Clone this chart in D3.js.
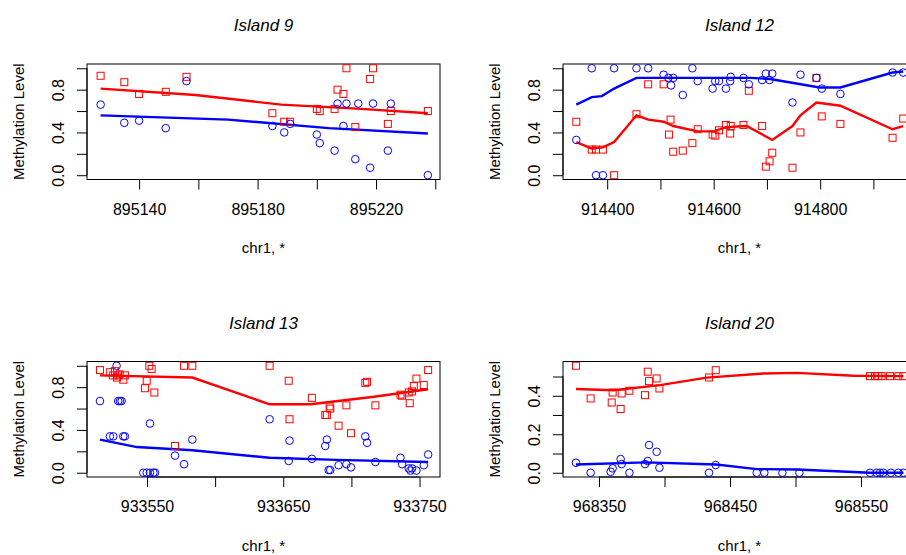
<!DOCTYPE html>
<html><head><meta charset="utf-8">
<script src="https://cdn.jsdelivr.net/npm/d3@7"></script>
<style>body{margin:0;background:#fff}text{font-family:"Liberation Sans",Arial,sans-serif}</style>
</head><body>
<svg id="c" width="906" height="555"></svg>
<script>
const titles = ["Island 9","Island 12","Island 13","Island 20"];
const offsets = [895000, 914000, 933000, 968000];
const xTicks = [[895140,895160,895180,895200,895220,895240],[914400,914500,914600,914700,914800,914900],[933550,933600,933650,933700,933750],[968350,968400,968450,968500,968550]];
const xLabelTicks = [[895140,895180,895220],[914400,914600,914800],[933550,933650,933750],[968350,968450,968550]];
const yTicks = [[0,0.2,0.4,0.6,0.8,1.0],[0,0.2,0.4,0.6,0.8,1.0],[0,0.2,0.4,0.6,0.8,1.0],[0,0.1,0.2,0.3,0.4,0.5]];
const yLabelTicks = [[0,0.4,0.8],[0,0.4,0.8],[0,0.4,0.8],[0,0.2,0.4]];
const xDomains = [[895122.4,895241.6],[914317,914980],[933506,933765],[968322.5,968592]];
const yDomains = [[-0.04,1.04],[-0.04,1.04],[-0.04,1.04],[-0.022,0.578]];

const red1 = [[127,.93],[135,.87],[140,.76],[149,.78],[156,.92],[185,.58],[189,.50],[191,.50],[200,.62],[201,.60],[206,.62],[207,.80],[209,.76],[210,1],[213,.45],[218,.90],[219,1],[224,.48],[225,.60],[237.5,.60]];
const blue1 = [[127,.66],[135,.49],[140,.51],[149,.44],[156,.88],[185,.46],[189,.40],[191,.48],[200,.38],[201,.30],[206,.23],[207,.67],[209,.46],[210,.67],[213,.15],[214,.67],[218,.07],[219,.67],[224,.23],[225,.67],[237.5,0]];
const redLine1 = [[127,.81],[159,.75],[188,.66],[215,.62],[237.5,.58]];
const blueLine1 = [[127,.56],[170,.52],[204,.44],[237.5,.39]];

const red2 = [[342,.50],[371,.24],[379,.24],[392,.24],[413,0],[455,.57],[477,.85],[506,.85],[519,.52],[516,.38],[524,.22],[542,.23],[560,.30],[570,.43],[598,.38],[603,.37],[610,.42],[623,.47],[631,.39],[632,.46],[656,.47],[666,.79],[691,.46],[698,.08],[705,.13],[710,.21],[748,.07],[763,.40],[793,.91],[803,.55],[838,.48],[936,.35],[956,.53]];
const blue2 = [[342,.33],[371,1],[379,0],[392,0],[413,1],[455,1],[477,1],[506,.94],[515,.91],[520,.84],[524,.91],[542,.75],[560,1],[570,.88],[598,.81],[603,.88],[610,.88],[623,.81],[631,.88],[632,.92],[656,.91],[666,.85],[691,.89],[698,.95],[705,.89],[710,.95],[748,.68],[763,.94],[793,.91],[803,.81],[838,.76],[936,.96],[956,.96]];
const redLine2 = [[342,.31],[371,.25],[392,.26],[413,.31],[455,.56],[477,.52],[506,.50],[524,.46],[570,.41],[600,.41],[623,.45],[662,.46],[710,.33],[748,.46],[763,.56],[793,.68],[838,.65],[936,.43],[956,.46]];
const blueLine2 = [[342,.66],[371,.73],[390,.74],[413,.81],[455,.91],[669,.91],[706,.90],[799,.82],[838,.82],[936,.96],[956,.97]];

const red3 = [[515.5,.96],[523,.94],[525,.91],[526.5,.95],[528,.89],[529,.91],[530,.92],[532.6,.87],[533.8,.91],[548.5,.79],[549.8,.86],[551.7,1],[553.4,.97],[555.4,.75],[570.6,.25],[577.2,1],[583.3,1],[640,1],[654,.86],[654.6,.5],[671,.70],[680.8,.54],[682,.54],[684,.62],[684.5,.60],[690.6,.44],[696.3,.63],[699.7,.37],[710.2,.84],[711.5,.85],[717.6,.63],[736,.73],[737.2,.72],[742.1,.75],[742.8,.65],[744.5,.76],[745.8,.81],[747.7,.88],[753.1,.82],[756.3,.96]];
const blue3 = [[515.5,.67],[522.8,.34],[525.3,.34],[527.7,1],[528.9,.67],[530.2,.67],[531.4,.67],[532.6,.34],[533.8,.34],[547.3,0],[549.8,0],[552.2,0],[552.2,.46],[554.7,0],[555.9,0],[570.6,.16],[577.2,.08],[583.3,.31],[640,.5],[654,.11],[654.6,.30],[671,.13],[680.8,.25],[682,.31],[683.3,.025],[684.5,.025],[690.6,.07],[696.3,.08],[699.7,.05],[710.2,.34],[711.5,.28],[717.6,.10],[736,.14],[737.2,.08],[742.1,.04],[743.3,.02],[744.5,.04],[747.7,.02],[753.1,.07],[756.3,.17]];
const redLine3 = [[515.5,.91],[583.3,.89],[640,.64],[670,.64],[716.6,.71],[756.3,.78]];
const blueLine3 = [[515.5,.31],[542.6,.24],[583.3,.21],[640,.14],[689,.12],[756.3,.10]];

const red4 = [[332.4,.556],[343.6,.386],[359.7,.365],[360.4,.417],[366.5,.331],[367.3,.412],[373.2,.426],[385.1,.403],[387.2,.525],[388.2,.476],[394,.49],[396.1,.438],[434,.495],[439.1,.533],[556.9,.502],[560.7,.502],[563.3,.502],[565.8,.502],[572.2,.502],[578.5,.502],[582.4,.502]];
const blue4 = [[332.4,.052],[343.6,0],[358.9,.005],[360.4,.023],[366.5,.071],[367.3,.045],[373.2,0],[385.1,.045],[387.2,.061],[388.2,.144],[394,.109],[396.1,.026],[434,0],[439.1,.04],[470.4,0],[476.2,0],[490,0],[503,0],[556.9,0],[562,0],[564.5,0],[567.1,0],[572.9,0],[578.5,0],[582.4,0]];
const redLine4 = [[332.4,.435],[361,.429],[396.6,.455],[432.2,.494],[475.5,.516],[501,.519],[544.2,.504],[582.4,.502]];
const blueLine4 = [[332.4,.043],[386,.054],[439.6,.043],[470.4,.019],[501,.017],[556.9,0],[582.4,0]];

const reds=[red1,red2,red3,red4], blues=[blue1,blue2,blue3,blue4];
const redLines=[redLine1,redLine2,redLine3,redLine4], blueLines=[blueLine1,blueLine2,blueLine3,blueLine4];

const boxes = [{x0:87,x1:440,y0:64,y1:179.5},{x0:563,x1:916,y0:64,y1:179.5},{x0:87,x1:440,y0:361.5,y1:477},{x0:563,x1:916,y0:361.5,y1:477}];
const svg = d3.select("#c");
const fmtY = d => d.toFixed(1);

boxes.forEach((b,i)=>{
  const off = offsets[i];
  const x = d3.scaleLinear().domain(xDomains[i]).range([b.x0,b.x1]);
  const y = d3.scaleLinear().domain(yDomains[i]).range([b.y1,b.y0]);
  const g = svg.append("g");
  g.append("rect").attr("x",b.x0).attr("y",b.y0).attr("width",b.x1-b.x0).attr("height",b.y1-b.y0).attr("fill","none").attr("stroke","#000").attr("stroke-width",1);
  const xa = g.append("g").attr("transform",`translate(0,${b.y1})`)
    .call(d3.axisBottom(x).tickValues(xTicks[i]).tickSize(10).tickPadding(14).tickFormat(d=>xLabelTicks[i].includes(d)?String(d):""));
  xa.select(".domain").attr("d",`M${x(xTicks[i][0])},0H${x(xTicks[i][xTicks[i].length-1])}`);
  xa.selectAll("text").attr("font-size",16).attr("fill","#000").attr("font-family","Liberation Sans, Arial");
  const ya = g.append("g").attr("transform",`translate(${b.x0},0)`)
    .call(d3.axisLeft(y).tickValues(yTicks[i]).tickSize(10).tickFormat(d=>yLabelTicks[i].some(v=>Math.abs(v-d)<1e-9)?fmtY(d):""));
  const yt = yTicks[i];
  ya.select(".domain").attr("d",`M0,${y(yt[0])}V${y(yt[yt.length-1])}`);
  ya.selectAll(".tick text").attr("font-size",16).attr("fill","#000").attr("font-family","Liberation Sans, Arial")
    .attr("x",0).attr("dy",0).attr("text-anchor","middle").attr("transform","translate(-23,0) rotate(-90)");
  g.append("text").attr("x",(b.x0+b.x1)/2).attr("y",b.y0-33).attr("text-anchor","middle").attr("font-size",17).attr("font-style","italic").text(titles[i]);
  g.append("text").attr("x",(b.x0+b.x1)/2).attr("y",b.y1+73.5).attr("text-anchor","middle").attr("font-size",15).text("chr1, *");
  g.append("text").attr("transform",`translate(${b.x0-63.5},${(b.y0+b.y1)/2}) rotate(-90)`).attr("text-anchor","middle").attr("font-size",15).text("Methylation Level");
  const cid="clip"+i;
  svg.append("clipPath").attr("id",cid).append("rect").attr("x",b.x0).attr("y",b.y0).attr("width",b.x1-b.x0).attr("height",b.y1-b.y0);
  const pg = g.append("g").attr("clip-path",`url(#${cid})`);
  const line = d3.line().x(d=>x(off+d[0])).y(d=>y(d[1]));
  pg.append("path").attr("d",line(redLines[i])).attr("fill","none").attr("stroke","#ff0000").attr("stroke-width",2.4);
  pg.append("path").attr("d",line(blueLines[i])).attr("fill","none").attr("stroke","#0000ff").attr("stroke-width",2.4);
  pg.selectAll(".sq").data(reds[i]).enter().append("rect").attr("x",d=>x(off+d[0])-3.5).attr("y",d=>y(d[1])-3.5).attr("width",7).attr("height",7).attr("fill","none").attr("stroke","#ff0000").attr("stroke-width",1);
  pg.selectAll(".ci").data(blues[i]).enter().append("circle").attr("cx",d=>x(off+d[0])).attr("cy",d=>y(d[1])).attr("r",3.8).attr("fill","none").attr("stroke","#0000ff").attr("stroke-width",1);
});
</script>
</body></html>
